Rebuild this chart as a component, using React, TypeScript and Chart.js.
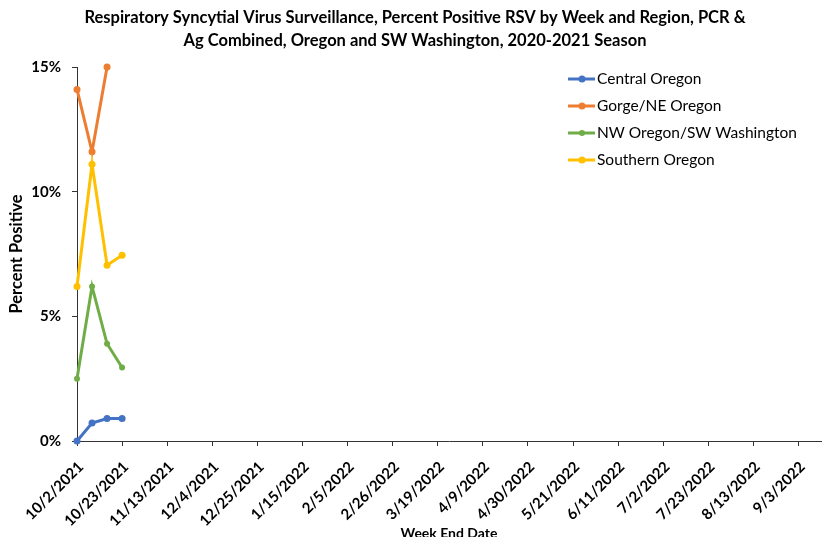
import React, { useEffect, useRef } from 'react';
import { Chart, registerables } from 'chart.js';

Chart.register(...registerables);

const weekLabels = [
  '10/2/2021', '10/9/2021', '10/16/2021', '10/23/2021', '10/30/2021', '11/6/2021', '11/13/2021',
  '11/20/2021', '11/27/2021', '12/4/2021', '12/11/2021', '12/18/2021', '12/25/2021', '1/1/2022',
  '1/8/2022', '1/15/2022', '1/22/2022', '1/29/2022', '2/5/2022', '2/12/2022', '2/19/2022',
  '2/26/2022', '3/5/2022', '3/12/2022', '3/19/2022', '3/26/2022', '4/2/2022', '4/9/2022',
  '4/16/2022', '4/23/2022', '4/30/2022', '5/7/2022', '5/14/2022', '5/21/2022', '5/28/2022',
  '6/4/2022', '6/11/2022', '6/18/2022', '6/25/2022', '7/2/2022', '7/9/2022', '7/16/2022',
  '7/23/2022', '7/30/2022', '8/6/2022', '8/13/2022', '8/20/2022', '8/27/2022', '9/3/2022',
  '9/10/2022', '9/17/2022',
];

const seriesNames = ['Central Oregon', 'Gorge/NE Oregon', 'NW Oregon/SW Washington', 'Southern Oregon'];
const centralOregon = [0, 0.72, 0.9, 0.9];
const gorgeNEOregon = [14.1, 11.6, 15.0];
const nwOregonSWWashington = [2.5, 6.2, 3.9, 2.95];
const southernOregon = [6.2, 11.1, 7.05, 7.45];
const seriesColors = ['#4472C4', '#ED7D31', '#70AD47', '#FFC000'];

const titleLines = [
  'Respiratory Syncytial Virus Surveillance, Percent Positive RSV by Week and Region, PCR &',
  'Ag Combined, Oregon and SW Washington, 2020-2021 Season',
];
const yAxisTitle = 'Percent Positive';
const xAxisTitle = 'Week End Date';

const FONT = 'Lato';

const toPoints = (vals: number[]) => vals.map((v, i) => ({ x: i, y: v }));

const legendPlugin = {
  id: 'customLegend',
  afterDraw(chart: any) {
    const ctx = chart.ctx;
    const area = chart.chartArea;
    const x0 = area.right - 253;
    ctx.save();
    chart.data.datasets.forEach((ds: any, i: number) => {
      const y = 79 + i * 27;
      ctx.strokeStyle = ds.borderColor;
      ctx.lineWidth = 3;
      ctx.beginPath();
      ctx.moveTo(x0, y);
      ctx.lineTo(x0 + 27, y);
      ctx.stroke();
      ctx.fillStyle = ds.borderColor;
      ctx.beginPath();
      ctx.arc(x0 + 14, y, ds.pointRadius, 0, Math.PI * 2);
      ctx.fill();
      ctx.fillStyle = '#000';
      ctx.font = `15.5px ${FONT}`;
      ctx.textBaseline = 'middle';
      ctx.textAlign = 'left';
      ctx.fillText(ds.label, x0 + 29, y);
    });
    ctx.restore();
  },
};

export default function App() {
  const ref = useRef<HTMLCanvasElement>(null);

  useEffect(() => {
    if (!ref.current) return;
    const seriesData = [centralOregon, gorgeNEOregon, nwOregonSWWashington, southernOregon];
    const orders = [3, 2, 1, 0];
    const chart = new Chart(ref.current, {
      type: 'line',
      data: {
        datasets: seriesData.map((vals, i) => ({
          label: seriesNames[i],
          data: toPoints(vals),
          borderColor: seriesColors[i],
          backgroundColor: seriesColors[i],
          pointBackgroundColor: seriesColors[i],
          pointBorderColor: seriesColors[i],
          borderWidth: 3,
          pointRadius: i === 2 ? 3 : 3.5,
          pointBorderWidth: 0,
          tension: 0,
          clip: false as any,
          order: orders[i],
        })),
      },
      plugins: [legendPlugin],
      options: {
        animation: false,
        responsive: false,
        layout: { padding: { left: 6, right: 1, top: 0, bottom: 0 } },
        plugins: {
          legend: { display: false },
          tooltip: { enabled: false },
          title: {
            display: true,
            text: titleLines,
            color: '#000',
            font: { family: FONT, size: 16.5, weight: 'bold', lineHeight: 1.4 },
            padding: { top: 6, bottom: 14.8 },
          },
        },
        scales: {
          x: {
            type: 'linear',
            min: 0,
            max: 49.5,
            grid: { drawOnChartArea: false, drawTicks: true, tickLength: 5, color: '#333' },
            border: { display: true, color: '#333', width: 1 },
            ticks: {
              stepSize: 3,
              includeBounds: false,
              autoSkip: false,
              maxRotation: 45,
              minRotation: 45,
              padding: 12,
              labelOffset: 4,
              color: '#000',
              font: { family: FONT, size: 15, weight: 'bold' },
              callback: (v: any) => weekLabels[Number(v)] ?? '',
            },
            title: {
              display: true,
              text: xAxisTitle,
              color: '#000',
              padding: { top: 0, bottom: -4.4 },
              font: { family: FONT, size: 14, weight: 'bold' },
            },
            afterFit: (s: any) => { s.height = 96; },
          },
          y: {
            min: 0,
            max: 15,
            grid: { drawOnChartArea: false, drawTicks: true, tickLength: 5, color: '#333' },
            border: { display: true, color: '#333', width: 1 },
            ticks: {
              stepSize: 5,
              padding: 11,
              color: '#000',
              font: { family: FONT, size: 15, weight: 'bold' },
              callback: (v: any) => `${v}%`,
            },
            title: {
              display: true,
              text: yAxisTitle,
              color: '#000',
              padding: { top: 1, bottom: 4 },
              font: { family: FONT, size: 16.5, weight: 'bold' },
            },
            afterFit: (s: any) => { s.width = 71; },
          },
        },
      },
    });
    return () => chart.destroy();
  }, []);

  return (
    <div style={{ position: 'absolute', left: 0, top: 0, width: 825, height: 537 }}>
      <canvas ref={ref} width={825} height={537} />
    </div>
  );
}
